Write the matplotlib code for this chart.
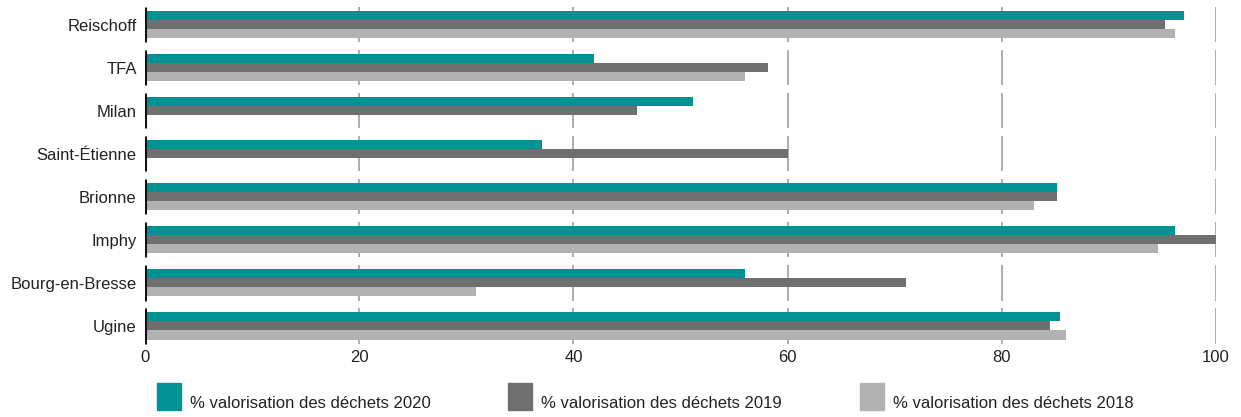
import matplotlib.pyplot as plt
from matplotlib.patches import Rectangle

plt.rcParams['font.family'] = ['Liberation Sans', 'DejaVu Sans']

sites = ["Reischoff", "TFA", "Milan", "Saint-Étienne", "Brionne", "Imphy", "Bourg-en-Bresse", "Ugine"]
val_2020 = [97.0, 41.9, 51.2, 37.1, 85.2, 96.2, 56.0, 85.4]
val_2019 = [95.2, 58.2, 45.9, 60.0, 85.2, 100.0, 71.1, 84.5]
val_2018 = [96.2, 56.0, None, None, 83.0, 94.6, 30.9, 86.0]
labels = ["% valorisation des déchets 2020", "% valorisation des déchets 2019", "% valorisation des déchets 2018"]
colors = ["#009193", "#6f6f6f", "#b2b2b2"]
xticks = [0, 20, 40, 60, 80, 100]

fig = plt.figure(figsize=(12.41, 4.17), dpi=100)
ax = fig.add_axes([145 / 1241, 1 - 347.5 / 417, (1216 - 145) / 1241, 344.5 / 417])

h = 0.21
for k, series in enumerate([val_2020, val_2019, val_2018]):
    for i, v in enumerate(series):
        if v is None:
            continue
        ax.barh(i + (k - 1) * h, v, height=h, color=colors[k], zorder=3)

# segmented grid lines, one band per site
for i in range(len(sites)):
    ax.vlines(xticks[1:], i - 0.41, i + 0.41, color="#a0a0a0", lw=1.2, zorder=1)
    ax.vlines(0, i - 0.41, i + 0.41, color="#111111", lw=2.2, zorder=4)

ax.set_xlim(0, 100)
ax.set_ylim(len(sites) - 0.5, -0.5)
ax.set_yticks(range(len(sites)))
ax.set_yticklabels(sites)
ax.set_xticks(xticks)
for s in ax.spines.values():
    s.set_visible(False)
ax.tick_params(axis="both", length=0, labelsize=12, labelcolor="#222222")
ax.tick_params(axis="y", pad=6)
ax.tick_params(axis="x", pad=2)

# legend drawn by hand
for k, x0 in enumerate([157, 508, 860]):
    fig.add_artist(Rectangle((x0 / 1241, 1 - 410 / 417), 24 / 1241, 27 / 417,
                             transform=fig.transFigure, color=colors[k]))
    fig.text((x0 + 33) / 1241, 1 - 403 / 417, labels[k], fontsize=12,
             color="#222222", va="center", ha="left")

fig.savefig("out.png", dpi=100)
